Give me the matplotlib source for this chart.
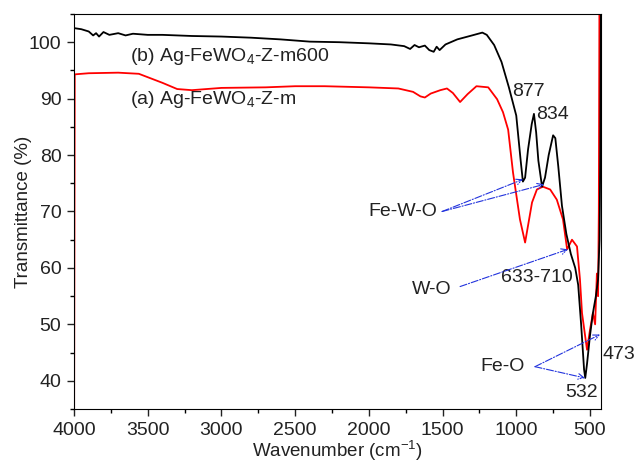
import numpy as np
import matplotlib.pyplot as plt
from matplotlib.ticker import MultipleLocator

plt.rcParams['font.family'] = ['Liberation Sans', 'DejaVu Sans']
plt.rcParams['mathtext.fontset'] = 'custom'
plt.rcParams['mathtext.rm'] = 'Liberation Sans'

# (b) Ag-FeWO4-Z-m600, black
wn_b = [4000, 3975, 3950, 3900, 3870, 3850, 3830, 3800, 3760, 3700, 3650, 3600, 3500, 3400,
        3200, 3000, 2800, 2600, 2400, 2200, 2000, 1850, 1760, 1720, 1690, 1660, 1620, 1590,
        1560, 1540, 1520, 1480, 1400, 1300, 1230, 1200, 1150, 1100, 1050, 1000, 970, 955,
        940, 920, 895, 880, 865, 850, 825, 805, 780, 750, 735, 715, 690, 660, 630, 600,
        580, 560, 540, 532, 520, 500, 480, 460, 445, 435, 430, 426]
t_b = [102.5, 102.4, 102.3, 101.9, 101.2, 101.6, 101.0, 101.8, 101.3, 101.6, 101.2, 101.5,
       101.3, 101.3, 101.1, 101.0, 100.8, 100.5, 100.1, 100.0, 99.8, 99.6, 99.3, 98.8,
       99.5, 99.1, 99.4, 98.6, 98.3, 99.2, 98.6, 99.6, 100.5, 101.2, 101.7, 101.3, 99.5,
       96.5, 92.0, 87.0, 79.0, 75.3, 76.0, 81.0, 85.5, 87.3, 84.0, 79.0, 74.4, 76.0, 80.0,
       83.5, 83.0, 78.0, 71.0, 66.0, 62.5, 60.0, 57.0, 50.0, 42.0, 40.5, 43.0, 48.0, 52.0,
       55.0, 58.0, 65.0, 80.0, 106.0]

# (a) Ag-FeWO4-Z-m, red
wn_a = [4000, 3995, 3900, 3700, 3560, 3500, 3400, 3300, 3200, 3000, 2700, 2500, 2300,
        2000, 1800, 1700, 1650, 1620, 1580, 1515, 1470, 1430, 1381, 1330, 1270, 1190,
        1130, 1090, 1055, 1022, 975, 940, 893, 860, 820, 770, 725, 683, 655, 622, 588,
        568, 554, 520, 500, 480, 465, 453, 445, 440, 436]
t_a = [20.0, 94.3, 94.5, 94.6, 94.4, 93.8, 92.8, 91.7, 91.5, 91.9, 92.0, 92.2, 92.2,
       92.0, 91.8, 91.2, 90.4, 90.2, 90.9, 91.5, 91.8, 91.0, 89.4, 90.8, 92.2, 92.0,
       89.9, 87.6, 84.5, 76.9, 68.6, 64.5, 71.6, 73.9, 74.4, 73.9, 72.1, 68.6, 63.3,
       65.0, 63.8, 58.0, 52.0, 45.5, 49.0, 52.0, 50.0, 59.0, 55.0, 70.0, 106.0]

fig = plt.figure(figsize=(6.35, 4.66), dpi=100)
ax = fig.add_axes([0.1165, 0.1223, 0.83, 0.8477])

ax.plot(wn_a, t_a, color='red', lw=1.3)
ax.plot(wn_b, t_b, color='black', lw=1.3)

ax.set_xlim(4000, 425)
ax.set_ylim(35, 105)
ax.xaxis.set_major_locator(MultipleLocator(500))
ax.xaxis.set_minor_locator(MultipleLocator(250))
ax.yaxis.set_major_locator(MultipleLocator(10))
ax.yaxis.set_minor_locator(MultipleLocator(5))
ax.tick_params(which='major', direction='out', length=5, width=1, labelsize=14,
               colors='#222222', pad=4)
ax.tick_params(which='minor', direction='out', length=3, width=1)

ax.set_xlabel('Wavenumber (cm$^{-1}$)', fontsize=13.5, color='#222222', labelpad=0)
ax.set_ylabel('Transmittance (%)', fontsize=13.5, color='#222222', labelpad=-2)

fs = 14
ax.text(3620, 97.5, '(b) Ag-FeWO$_4$-Z-m600', fontsize=fs, va='center', color='#222222')
ax.text(3620, 89.9, '(a) Ag-FeWO$_4$-Z-m', fontsize=fs, va='center', color='#222222')
ax.text(1030, 91.3, '877', fontsize=fs, va='center', color='#222222')
ax.text(862, 87.2, '834', fontsize=fs, va='center', color='#222222')
ax.text(1770, 70.0, 'Fe-W-O', fontsize=fs, ha='center', va='center', color='#222222')
ax.text(1571, 56.2, 'W-O', fontsize=fs, ha='center', va='center', color='#222222')
ax.text(859, 58.3, '633-710', fontsize=fs, ha='center', va='center', color='#222222')
ax.text(1090, 42.5, 'Fe-O', fontsize=fs, ha='center', va='center', color='#222222')
ax.text(554, 38.0, '532', fontsize=fs, ha='center', va='center', color='#222222')
ax.text(414, 44.6, '473', fontsize=fs, ha='left', va='center', color='#222222')

arrows = [((1503, 70.0), (954, 75.7)),
          ((1503, 70.0), (812, 74.8)),
          ((1381, 56.7), (649, 63.3)),
          ((873, 42.5), (432, 48.2)),
          ((873, 42.5), (534, 40.5))]
for start, end in arrows:
    ax.annotate('', xy=end, xytext=start,
                arrowprops=dict(arrowstyle='->', color='#2233dd', lw=0.8,
                                linestyle='-.', shrinkA=0, shrinkB=0),
                annotation_clip=False)

plt.savefig('out.png', dpi=100)
